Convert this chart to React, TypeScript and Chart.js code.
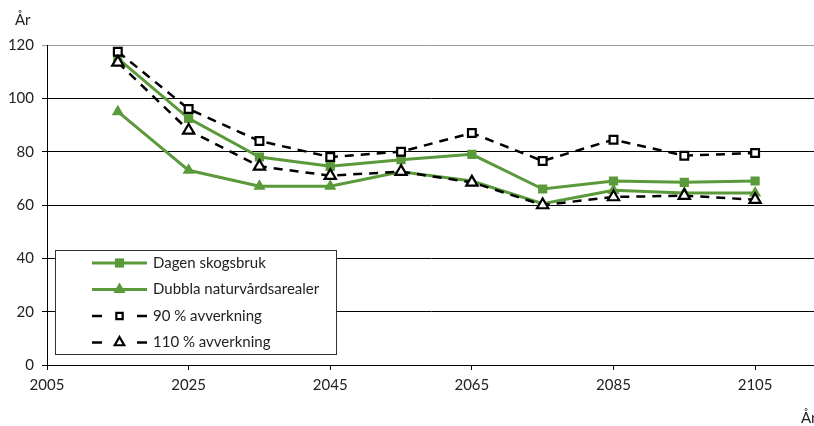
import React, { useEffect, useRef } from "react";
import { Chart, registerables } from "chart.js";

Chart.register(...registerables);

// Simulation years and stand-age results (År) per scenario
const years = [2015, 2025, 2035, 2045, 2055, 2065, 2075, 2085, 2095, 2105];
const dagenSkogsbruk = [115, 92.5, 78, 74.5, 77, 79, 66, 69, 68.5, 69];
const dubblaNaturvard = [95, 73, 67, 67, 72.5, 69, 60.5, 65.5, 64.5, 64.5];
const avverkning90 = [117.5, 96, 84, 78, 80, 87, 76.5, 84.5, 78.5, 79.5];
const avverkning110 = [113.5, 88, 74.5, 71, 72.5, 68.5, 60, 63, 63.5, 62];

const seriesLabels = [
  "Dagen skogsbruk",
  "Dubbla naturvårdsarealer",
  "90 % avverkning",
  "110 % avverkning",
];
const xTickValues = [2005, 2025, 2045, 2065, 2085, 2105];
const axisTitle = "År";

const GREEN = "#5a9a3a";
const FONT = "Lato, 'Open Sans', sans-serif";
const TEXT = "#222";

function drawMarker(ctx: CanvasRenderingContext2D, style: string, x: number, y: number, r: number, fill: string, stroke: string, lw: number) {
  ctx.save();
  ctx.setLineDash([]);
  ctx.beginPath();
  if (style === "rect") {
    const s = Math.SQRT1_2 * r;
    ctx.rect(x - s, y - s, 2 * s, 2 * s);
  } else {
    const h = r;
    ctx.moveTo(x, y - h);
    ctx.lineTo(x + h * Math.cos(Math.PI / 6), y + h * 0.5);
    ctx.lineTo(x - h * Math.cos(Math.PI / 6), y + h * 0.5);
    ctx.closePath();
  }
  ctx.fillStyle = fill;
  ctx.fill();
  if (lw > 0) {
    ctx.lineWidth = lw;
    ctx.strokeStyle = stroke;
    ctx.stroke();
  }
  ctx.restore();
}

const legendAndTitles = {
  id: "legendAndTitles",
  afterDraw(chart: any) {
    const ctx: CanvasRenderingContext2D = chart.ctx;
    ctx.save();
    // axis titles
    ctx.font = `15px ${FONT}`;
    ctx.fillStyle = TEXT;
    ctx.textAlign = "left";
    ctx.textBaseline = "alphabetic";
    ctx.fillText(axisTitle, 15, 25);
    ctx.fillText(axisTitle, 801, 423);

    // legend box
    const bx = 55.5, by = 250.5, bw = 281, bh = 104;
    ctx.fillStyle = "#fff";
    ctx.fillRect(bx, by, bw, bh);
    ctx.strokeStyle = "#333";
    ctx.lineWidth = 1;
    ctx.strokeRect(bx, by, bw, bh);

    const rows = [263, 289.5, 316, 342.5];
    chart.data.datasets.forEach((ds: any, i: number) => {
      const y = rows[i];
      const x0 = 92, x1 = 147, cx = 119.5;
      ctx.strokeStyle = ds.borderColor;
      ctx.lineWidth = ds.borderWidth;
      if (ds.borderDash && ds.borderDash.length) {
        ctx.beginPath();
        ctx.moveTo(x0, y);
        ctx.lineTo(x0 + 10, y);
        ctx.moveTo(x1 - 10, y);
        ctx.lineTo(x1, y);
        ctx.stroke();
        drawMarker(ctx, ds.pointStyle, cx, y, ds.pointRadius - 1, ds.pointBackgroundColor, ds.pointBorderColor, ds.pointBorderWidth);
      } else {
        ctx.beginPath();
        ctx.moveTo(x0, y);
        ctx.lineTo(x1, y);
        ctx.stroke();
        drawMarker(ctx, ds.pointStyle, cx, y, ds.pointRadius, ds.pointBackgroundColor, ds.pointBorderColor, ds.pointBorderWidth);
      }
      ctx.font = `15px ${FONT}`;
      ctx.fillStyle = TEXT;
      ctx.textAlign = "left";
      ctx.textBaseline = "middle";
      ctx.fillText(ds.label, 153, y);
    });
    ctx.restore();
  },
};

function toPoints(values: number[]) {
  return values.map((v, i) => ({ x: years[i], y: v }));
}

export default function App() {
  const canvasRef = useRef<HTMLCanvasElement | null>(null);

  useEffect(() => {
    const canvas = canvasRef.current;
    if (!canvas) return;
    const chart = new Chart(canvas, {
      type: "line",
      data: {
        datasets: [
          {
            label: seriesLabels[0],
            data: toPoints(dagenSkogsbruk),
            borderColor: GREEN,
            backgroundColor: GREEN,
            borderWidth: 3,
            pointStyle: "rect",
            pointRadius: 6.5,
            pointBackgroundColor: GREEN,
            pointBorderColor: GREEN,
            pointBorderWidth: 0,
            order: 2,
          },
          {
            label: seriesLabels[1],
            data: toPoints(dubblaNaturvard),
            borderColor: GREEN,
            backgroundColor: GREEN,
            borderWidth: 3,
            pointStyle: "triangle",
            pointRadius: 7,
            pointBackgroundColor: GREEN,
            pointBorderColor: GREEN,
            pointBorderWidth: 0,
            order: 2,
          },
          {
            label: seriesLabels[2],
            data: toPoints(avverkning90),
            borderColor: "#000",
            backgroundColor: "#fff",
            borderWidth: 2.5,
            borderDash: [9, 7],
            pointStyle: "rect",
            pointRadius: 5.5,
            pointBackgroundColor: "#fff",
            pointBorderColor: "#000",
            pointBorderWidth: 2.2,
            order: 1,
          },
          {
            label: seriesLabels[3],
            data: toPoints(avverkning110),
            borderColor: "#000",
            backgroundColor: "#fff",
            borderWidth: 2.5,
            borderDash: [9, 7],
            pointStyle: "triangle",
            pointRadius: 6.5,
            pointBackgroundColor: "#fff",
            pointBorderColor: "#000",
            pointBorderWidth: 2.2,
            order: 0,
          },
        ],
      },
      options: {
        animation: false,
        responsive: false,
        maintainAspectRatio: false,
        layout: { padding: { top: 45, right: 0, bottom: 0, left: 0 } },
        plugins: {
          legend: { display: false },
          tooltip: { enabled: false },
          title: { display: false },
        },
        elements: { line: { tension: 0 } },
        scales: {
          x: {
            type: "linear",
            min: 2005,
            max: 2113.5,
            afterBuildTicks: (axis: any) => {
              axis.ticks = xTickValues.map((v) => ({ value: v }));
            },
            afterFit: (axis: any) => {
              axis.height = 61;
            },
            ticks: {
              autoSkip: false,
              maxRotation: 0,
              padding: 6,
              color: TEXT,
              font: { family: FONT, size: 15 },
              callback: (v: any) => String(v),
            },
            grid: {
              drawOnChartArea: false,
              drawTicks: true,
              tickLength: 5,
              color: "#000",
              lineWidth: 1,
            },
            border: { display: true, color: "#000", width: 1 },
          },
          y: {
            min: 0,
            max: 120,
            afterFit: (axis: any) => {
              axis.width = 47;
            },
            ticks: {
              stepSize: 20,
              padding: 8,
              color: TEXT,
              font: { family: FONT, size: 15 },
            },
            grid: {
              drawTicks: true,
              tickLength: 5,
              color: (c: any) => (c.tick && c.tick.value === 120 ? "#9a9a9a" : "#000"),
              lineWidth: 1,
            },
            border: { display: true, color: "#000", width: 1 },
          },
        },
      },
      plugins: [legendAndTitles],
    });
    return () => chart.destroy();
  }, []);

  // The canvas is a little wider than the frame so the plot runs to the right edge
  return (
    <div style={{ position: "fixed", left: 0, top: 0, width: 814, height: 426, overflow: "hidden", background: "#fff" }}>
      <canvas ref={canvasRef} width={824} height={426} style={{ display: "block" }} />
    </div>
  );
}
